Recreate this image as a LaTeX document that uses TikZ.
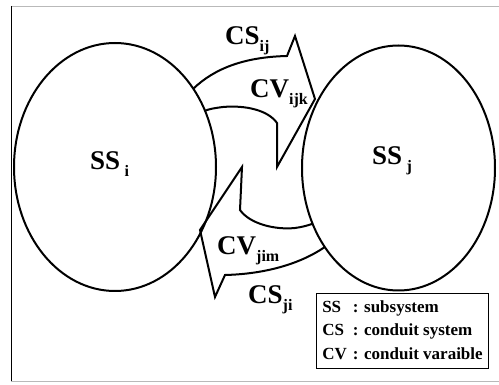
\documentclass[tikz,border=0pt]{standalone}
\usepackage{fontspec}
\setmainfont{Liberation Serif}
\usepackage{tikz}
\usetikzlibrary{shapes.geometric}

\newcommand{\sbs}[1]{\raisebox{-7pt}{\fontsize{16}{16}\selectfont #1}}

\begin{document}
\begin{tikzpicture}[
  x=1pt, y=-1pt,
  every node/.style={font=\fontsize{27}{30}\selectfont\bfseries, inner sep=0pt},
  subsys/.style={ellipse, draw, line width=2pt, outer sep=0pt},
  conduit/.style={draw, line width=2pt, line join=miter, miter limit=20},
  lbl/.style={anchor=base west},
  legendbox/.style={draw, line width=1.3pt, inner xsep=6pt, inner ysep=2pt,
    font=\fontsize{17}{23.5}\selectfont\bfseries},
  frameline/.style={gray!55, line width=0.8pt},
]
\useasboundingbox (0,0) rectangle (499,385);

% ========= Frame =========
\draw[frameline] (11,6) -- (499,6);
\draw[frameline] (11,381) -- (499,381);
\draw[line width=1pt] (11,6) -- (11,381);

% ========= Subsystems =========
\node[subsys, minimum width=202pt, minimum height=248pt] (ssi) at (115,167) {};
\node[subsys, minimum width=193pt, minimum height=245pt] (ssj) at (398.5,168) {};

\node[lbl] (ssilbl) at (90,170) {SS\,\sbs{i}};
\node[lbl] (ssjlbl) at (372,165) {SS\,\sbs{j}};

% ========= Conduit i -> j (upper) =========
\draw[conduit] (ssi.45) .. controls (215,68) and (245,57) .. (287,56)
  -- (295,36) -- (315,99) -- (277,167) -- (277,123)
  .. controls (268,110) and (245,105) .. (223,107)
  .. controls (215,108) and (209,109) .. (ssi.32);

% ========= Conduit j -> i (lower) =========
\draw[conduit] (ssj.227) .. controls (300,264) and (265,274) .. (225,275)
  -- (215,297) -- (200,230) -- (242,167) -- (240,210)
  .. controls (250,224) and (275,230) .. (295,228)
  .. controls (302,227) and (306,226) .. (ssj.213);

% ========= Conduit labels =========
\node[lbl] (csij) at (225,45) {CS\sbs{ij}};
\node[lbl] (cvijk) at (250,98) {CV\sbs{ijk}};
\node[lbl] (cvjim) at (217,255) {CV\sbs{jim}};
\node[lbl] (csji) at (248,304) {CS\sbs{ji}};

% ========= Legend =========
\node[legendbox] (legend) at (402.5,331) {%
  \begin{tabular}{@{}l@{\hspace{6pt}}l@{}}
  SS & : subsystem\\
  CS & : conduit system\\
  CV & : conduit varaible
  \end{tabular}};

\end{tikzpicture}
\end{document}
